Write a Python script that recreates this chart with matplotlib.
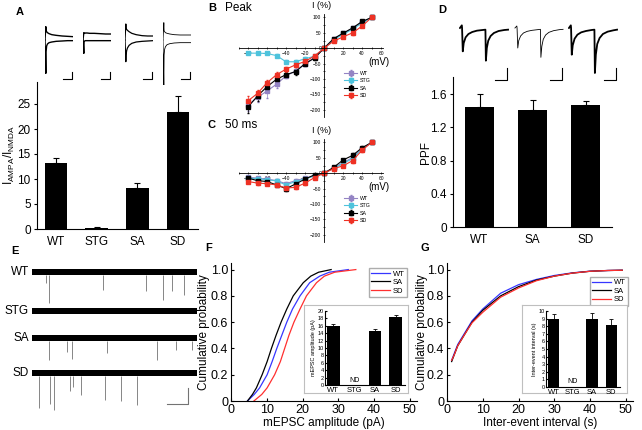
import matplotlib
matplotlib.use("Agg")
import matplotlib.pyplot as plt
from matplotlib.lines import Line2D
from matplotlib.ticker import MultipleLocator
import numpy as np

plt.rcParams["font.family"] = ["Liberation Sans", "DejaVu Sans"]
plt.rcParams["mathtext.fontset"] = "custom"
plt.rcParams["mathtext.rm"] = "Liberation Sans"

# ---- Panel A: AMPA/NMDA ratio ----
groups_a = ["WT", "STG", "SA", "SD"]
ratio_mean = [13.3, 0.3, 8.3, 23.4]
ratio_sem = [1.0, 0.1, 0.9, 3.2]

# example traces (+40 mV outward / -70 mV inward), arbitrary units
t_ratio = [-3, 0, 1, 3, 6, 12, 22, 38, 60, 80, 100]
out_traces = {
    "WT": [0, 40, 28, 25, 22, 19, 16, 14, 12, 11, 10],
    "STG": [0, 22, 20, 20, 21, 21, 20, 20, 19, 18, 18],
    "SA": [0, 48, 35, 32, 29, 25, 20, 16, 13, 12, 12],
    "SD": [0, 52, 28, 25, 22, 20, 18, 16, 15, 15, 15],
}
in_traces = {
    "WT": [0, -100, -35, -18, -12, -8, -6, -4, -3, -2, -2],
    "STG": [0, -40, -4, -3, -2, -2, -2, -2, -2, -2, -2],
    "SA": [0, -65, -45, -32, -24, -16, -10, -6, -4, -3, -2],
    "SD": [0, -135, -45, -28, -20, -14, -11, -9, -8, -8, -8],
}

# ---- Panels B / C: I-V relations ----
v_steps = [-80, -70, -60, -50, -40, -30, -20, -10, 0, 10, 20, 30, 40, 50]
peak_wt = [-185, -160, -139, -117, -90, -74, -52, -30, 0, 30, 48, 65, 85, 100]
peak_stg = [-16, -16, -17, -24, -44, -44, -34, -26, 0, 28, 45, 62, 82, 100]
peak_sa = [-191, -155, -125, -101, -86, -76, -50, -32, 0, 31, 49, 66, 87, 100]
peak_sd = [-171, -147, -112, -86, -68, -54, -43, -25, 0, 23, 37, 50, 72, 100]
peak_wt_err = [20, 15, 22, 12, 8, 6, 5, 4, 0, 3, 3, 3, 3, 0]
peak_stg_err = [3, 3, 3, 4, 5, 5, 5, 4, 0, 3, 3, 3, 3, 0]
peak_sa_err = [20, 15, 12, 10, 8, 10, 6, 5, 0, 3, 3, 3, 3, 0]
peak_sd_err = [15, 12, 10, 10, 8, 6, 5, 4, 0, 3, 3, 6, 3, 0]

late_wt = [-13, -16, -19, -24, -34, -24, -16, -8, 0, 18, 34, 51, 80, 100]
late_stg = [-16, -18, -21, -25, -38, -27, -18, -9, 0, 16, 31, 48, 78, 100]
late_sa = [-16, -24, -27, -38, -50, -35, -19, -5, 0, 19, 43, 58, 83, 100]
late_sd = [-27, -32, -34, -38, -48, -46, -32, -14, 0, 15, 24, 41, 75, 100]
late_err = [5, 5, 5, 5, 7, 6, 5, 4, 0, 3, 4, 8, 5, 0]

# ---- Panel D: paired-pulse facilitation ----
groups_d = ["WT", "SA", "SD"]
ppf_mean = [1.45, 1.41, 1.47]
ppf_sem = [0.15, 0.12, 0.05]
t_ppf = [-4, 0, 0.5, 2, 4, 8, 14, 22, 32, 44, 50, 51, 53, 56, 61, 68, 78, 90, 98]
ppf_traces = {
    "WT": [0, 8, 0, -70, -45, -28, -18, -12, -8, -6, -5, -98, -60, -38, -24, -15, -9, -6, -5],
    "SA": [0, 6, 0, -60, -38, -24, -15, -10, -7, -5, -4, -88, -55, -34, -21, -13, -8, -5, -4],
    "SD": [0, 8, 0, -80, -52, -32, -20, -13, -9, -6, -5, -135, -80, -48, -30, -18, -11, -7, -5],
}

# ---- Panel E: mEPSC recordings (event time in % of sweep, amplitude pA) ----
rows_e = ["WT", "STG", "SA", "SD"]
event_times = {
    "WT": [8.3, 10.3, 43.2, 69.0, 79.1, 84.8, 91.9],
    "STG": [],
    "SA": [10.3, 21.5, 24.5, 45.2, 75.7, 87.2, 97.0],
    "SD": [4.1, 11.2, 13.4, 23.3, 24.9, 29.8, 44.2, 53.8, 63.5],
}
event_amps = {
    "WT": [15, 41, 24, 25, 37, 25, 31],
    "STG": [],
    "SA": [29, 19, 28, 20, 29, 16, 16],
    "SD": [47, 41, 49, 24, 19, 29, 36, 37, 43],
}
noise_band = 3.9

# ---- Panel F: mEPSC amplitude distributions ----
cum_levels = [0, 0.05, 0.1, 0.2, 0.3, 0.4, 0.5, 0.6, 0.7, 0.8, 0.9, 0.95, 0.98, 1.0]
amp_wt = [4.6, 6.5, 8.0, 10.1, 11.5, 12.8, 14.2, 15.6, 17.2, 19.3, 22.0, 24.8, 27.5, 32.8]
amp_sa = [4.6, 6.0, 7.1, 8.7, 10.1, 11.3, 12.6, 14.0, 15.6, 17.4, 20.2, 22.3, 24.5, 28.0]
amp_sd = [6.4, 8.6, 10.1, 12.2, 13.8, 15.0, 16.2, 17.6, 19.3, 21.1, 23.9, 26.1, 29.0, 34.9]
amp_mean = [16.0, 0, 14.6, 18.5]
amp_sem = [0.5, 0, 0.5, 0.3]

# ---- Panel G: inter-event interval distributions ----
interval = [1.3, 2, 3, 5, 7, 10, 15, 20, 25, 30, 35, 40, 45, 49]
cum_wt = [0.31, 0.36, 0.43, 0.52, 0.61, 0.70, 0.82, 0.885, 0.925, 0.955, 0.975, 0.988, 0.993, 0.995]
cum_sa = [0.30, 0.35, 0.42, 0.51, 0.60, 0.69, 0.80, 0.87, 0.92, 0.95, 0.973, 0.987, 0.993, 0.995]
cum_sd = [0.31, 0.35, 0.42, 0.51, 0.595, 0.675, 0.79, 0.86, 0.915, 0.95, 0.973, 0.987, 0.993, 0.995]
iei_mean = [8.9, 0, 8.9, 8.1]
iei_sem = [0.7, 0, 0.9, 0.8]

c_wt, c_stg, c_sa, c_sd = "#9484c4", "#4ec3dc", "black", "#ee3124"
c_blue, c_red = "#3636ff", "#ff2f2f"

W, H = 642, 430
fig = plt.figure(figsize=(6.42, 4.30), dpi=100)


def px_axes(x0, y0, x1, y1):
    return fig.add_axes([x0 / W, 1 - y1 / H, (x1 - x0) / W, (y1 - y0) / H])


def fig_text(x, y, s, **kw):
    fig.text(x / W, 1 - y / H, s, **kw)


def fig_line(xs, ys, lw=0.8, color="black"):
    fig.add_artist(Line2D([x / W for x in xs], [1 - y / H for y in ys], lw=lw, color=color))


def bar_panel(ax, means, sems, labels, width):
    x = np.arange(len(means))
    ax.bar(x, means, width=width, color="black")
    ax.errorbar(x, means, yerr=[np.zeros(len(sems)), sems], fmt="none",
                ecolor="black", elinewidth=0.8, capsize=2.5, capthick=0.8)
    ax.set_xticks(x)
    ax.set_xticklabels(labels)
    ax.spines["top"].set_visible(False)
    ax.spines["right"].set_visible(False)
    ax.tick_params(axis="x", length=0)


# ---------------- A ----------------
fig_text(20, 12, "A", fontsize=8, fontweight="bold", ha="center", va="center")
ax = px_axes(37, 82, 198, 229)
bar_panel(ax, ratio_mean, ratio_sem, groups_a, 0.56)
ax.set_xlim(-0.47, 3.49)
ax.set_ylim(0, 29.4)
ax.set_yticks([0, 5, 10, 15, 20, 25])
ax.tick_params(axis="y", direction="out", length=2.5, labelsize=8.5, pad=2)
ax.tick_params(axis="x", labelsize=8.5, pad=5)
ax.set_ylabel(r"I$_{\rm AMPA}$/I$_{\rm NMDA}$", fontsize=8.5)
ax.yaxis.set_label_coords(-0.125, 0.5)

pair_x = [45, 83, 125, 163]
trace_lw = {"WT": 1.0, "STG": 1.0, "SA": 0.9, "SD": 0.6}
for g, x0 in zip(groups_a, pair_x):
    tax = px_axes(x0, 22, x0 + 28, 85)
    tax.plot(t_ratio, out_traces[g], color="black", lw=trace_lw[g])
    tax.plot(t_ratio, in_traces[g], color="black", lw=trace_lw[g])
    tax.set_xlim(-3, 100)
    tax.set_ylim(-135, 54)
    tax.axis("off")
    fig_line([x0 + 18, x0 + 27, x0 + 27], [79, 79, 72])

# ---------------- B / C ----------------
def iv_panel(y_zero, series, errs, title, lab_y):
    ax = px_axes(238.5, y_zero - 34.2, 383, y_zero + 68.5)
    labels = ["WT", "STG", "SA", "SD"]
    colors = [c_wt, c_stg, c_sa, c_sd]
    for vals, err, col, lab in zip(series, errs, colors, labels):
        ax.errorbar(v_steps, vals, yerr=err, color=col, lw=0.8, marker="s",
                    ms=2.3, capsize=1, elinewidth=0.5, label=lab)
    ax.set_xlim(-90, 62)
    ax.set_ylim(-222, 112)
    for s in ["left", "bottom"]:
        ax.spines[s].set_position(("data", 0))
        ax.spines[s].set_linewidth(0.6)
    ax.spines["top"].set_visible(False)
    ax.spines["right"].set_visible(False)
    ax.set_xticks([-80, -60, -40, -20, 20, 40, 60])
    ax.set_yticks([-200, -150, -100, -50, 0, 50, 100])
    ax.xaxis.set_minor_locator(MultipleLocator(10))
    ax.yaxis.set_minor_locator(MultipleLocator(25))
    ax.tick_params(which="both", direction="inout", labelsize=3.5, pad=1, width=0.5)
    ax.tick_params(which="major", length=2)
    ax.tick_params(which="minor", length=1.2)
    ax.patch.set_alpha(0)
    ax.legend(loc="upper left", bbox_to_anchor=(0.71, 0.47), frameon=False,
              fontsize=3.8, handlelength=2.6, handletextpad=0.5, labelspacing=0.45,
              borderpad=0)
    fig_text(322, y_zero - 42, "I (%)", fontsize=6.5, ha="center", va="center")
    fig_text(379, y_zero + 14, "(mV)", fontsize=7, ha="center", va="center")
    fig_text(212, lab_y, title[0], fontsize=8, fontweight="bold", ha="center", va="center")
    fig_text(225, lab_y, title[1], fontsize=8.5, ha="left", va="center")


iv_panel(48, [peak_wt, peak_stg, peak_sa, peak_sd],
         [peak_wt_err, peak_stg_err, peak_sa_err, peak_sd_err], ("B", "Peak"), 8)
iv_panel(173, [late_wt, late_stg, late_sa, late_sd],
         [late_err, late_err, late_err, late_err], ("C", "50 ms"), 125)

# ---------------- D ----------------
fig_text(442, 10, "D", fontsize=8, fontweight="bold", ha="center", va="center")
ax = px_axes(453, 77, 612, 227)
bar_panel(ax, ppf_mean, ppf_sem, groups_d, 0.55)
ax.set_xlim(-0.5, 2.5)
ax.set_ylim(0, 1.805)
ax.set_yticks([0, 0.4, 0.8, 1.2, 1.6])
ax.set_yticklabels(["0", "0.4", "0.8", "1.2", "1.6"])
ax.tick_params(axis="y", direction="out", length=2.5, labelsize=8.5, pad=2)
ax.tick_params(axis="x", labelsize=8.5, pad=5)
ax.set_ylabel("PPF", fontsize=8.5)
ax.yaxis.set_label_coords(-0.135, 0.5)

ppf_x = [459, 514, 568]
ppf_lw = {"WT": 1.3, "SA": 0.6, "SD": 1.3}
for g, x0 in zip(groups_d, ppf_x):
    tax = px_axes(x0, 20, x0 + 50, 82)
    tax.plot(t_ppf, ppf_traces[g], color="black", lw=ppf_lw[g])
    tax.set_xlim(-6, 100)
    tax.set_ylim(-162, 24)
    tax.axis("off")
    fig_line([x0 + 36, x0 + 48, x0 + 48], [80, 80, 68])

# ---------------- E ----------------
fig_text(15, 251, "E", fontsize=8, fontweight="bold", ha="center", va="center")
row_y = [272, 311, 338, 373]
for g, cy in zip(rows_e, row_y):
    tax = px_axes(32, cy - 8, 197, cy + 40)
    tax.fill_between([0, 100], -noise_band, noise_band, color="black", lw=0)
    if event_times[g]:
        tax.vlines(event_times[g], -noise_band, -np.array(event_amps[g]),
                   color="0.45", lw=0.6)
    tax.set_xlim(0, 100)
    tax.set_ylim(-53.3, 10.7)
    tax.axis("off")
    fig_text(29, cy, g, fontsize=8.5, ha="right", va="center")
fig_line([167, 188, 188], [404, 404, 388], color="0.45")

# ---------------- F / G ----------------
def cum_axes(x0, letter, xlabel, ylab_x):
    ax = px_axes(x0, 263, x0 + 186, 401)
    ax.set_xlim(0, 52)
    ax.set_ylim(0, 1.05)
    ax.set_xticks([0, 10, 20, 30, 40, 50])
    ax.set_yticks([0, 0.2, 0.4, 0.6, 0.8, 1.0])
    ax.set_yticklabels(["0", "0.2", "0.4", "0.6", "0.8", "1.0"])
    ax.spines["top"].set_visible(False)
    ax.spines["right"].set_visible(False)
    ax.tick_params(direction="in", length=2.5, labelsize=9, pad=2)
    ax.set_ylabel("Cumulative probability", fontsize=8.5)
    ax.yaxis.set_label_coords(ylab_x, 0.5)
    ax.set_xlabel(xlabel, fontsize=8.5, labelpad=1)
    fig_text(x0 - 22, 248, letter, fontsize=8, fontweight="bold", ha="center", va="center")
    return ax


def inset(frame, inner, means, sems, ymax, step, ylabel):
    fr = px_axes(*frame)
    fr.set_xticks([])
    fr.set_yticks([])
    for s in fr.spines.values():
        s.set_color("0.75")
        s.set_linewidth(0.8)
    iax = px_axes(*inner)
    iax.patch.set_alpha(0)
    x = np.arange(4)
    keep = [0, 2, 3]
    iax.bar([x[i] for i in keep], [means[i] for i in keep], width=0.6, color="black")
    iax.errorbar([x[i] for i in keep], [means[i] for i in keep],
                 yerr=[[0, 0, 0], [sems[i] for i in keep]], fmt="none",
                 ecolor="black", elinewidth=0.6, capsize=1.5, capthick=0.6)
    iax.text(1, ymax * 0.02, "ND", fontsize=5, ha="center", va="bottom")
    iax.set_xlim(-0.4, 3.45)
    iax.set_ylim(0, ymax)
    iax.set_xticks(x)
    iax.set_xticklabels(groups_a)
    iax.set_yticks(np.arange(0, ymax + step / 2, step))
    iax.spines["top"].set_visible(False)
    iax.spines["right"].set_visible(False)
    iax.tick_params(axis="x", length=0, labelsize=5.5, pad=1.5)
    iax.tick_params(axis="y", direction="in", length=1.5, labelsize=4, pad=1)
    iax.set_ylabel(ylabel, fontsize=4, labelpad=1)


ax = cum_axes(231, "F", "mEPSC amplitude (pA)", -0.115)
ax.plot(amp_wt, cum_levels, color=c_blue, lw=0.9, label="WT")
ax.plot(amp_sa, cum_levels, color="black", lw=0.9, label="SA")
ax.plot(amp_sd, cum_levels, color=c_red, lw=0.9, label="SD")
ax.legend(loc="upper right", bbox_to_anchor=(0.946, 0.964), fontsize=5.5,
          fancybox=False, edgecolor="0.6", borderpad=0.3, handlelength=2.4,
          labelspacing=0.15, handletextpad=0.4, borderaxespad=0)
inset((304, 305, 408, 393), (325, 311, 405, 385), amp_mean, amp_sem, 20, 2,
      "mEPSC amplitude (pA)")

ax = cum_axes(447, "G", "Inter-event interval (s)", -0.1)
ax.plot(interval, cum_wt, color=c_blue, lw=0.9, label="WT")
ax.plot(interval, cum_sa, color="black", lw=0.9, label="SA")
ax.plot(interval, cum_sd, color=c_red, lw=0.9, label="SD")
ax.legend(loc="upper right", bbox_to_anchor=(0.973, 0.90), fontsize=5.5,
          fancybox=False, edgecolor="0.6", borderpad=0.3, handlelength=2.4,
          labelspacing=0.15, handletextpad=0.4, borderaxespad=0)
inset((522, 305, 627, 393), (546, 311, 620, 387), iei_mean, iei_sem, 10, 1,
      "Inter-event interval (s)")

fig.savefig("out.png", dpi=100)
